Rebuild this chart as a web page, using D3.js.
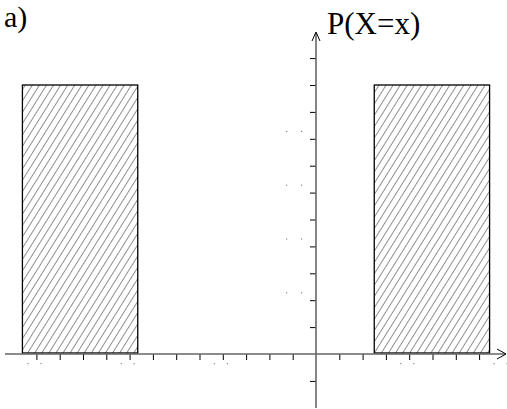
<!DOCTYPE html>
<html>
<head>
<meta charset="utf-8">
<script src="https://cdn.jsdelivr.net/npm/d3@7"></script>
<style>
  body { margin: 0; background: #fff; }
  svg { display: block; }
  .lbl { font-family: "Liberation Serif", "DejaVu Serif", serif; }
</style>
</head>
<body>
<div id="chart"></div>
<script>
// bars: uniform distribution pieces [x0, x1] with height
var barStart = [-12.6, 2.5];
var barEnd = [-7.65, 7.45];
var barHeight = [10, 10];

// axis tick values
var xTicks = [-12, -11, -10, -9, -8, -7, -6, -5, -4, -3, -2, -1, 1, 2, 3, 4, 5, 6, 7];
var yTicks = [-1, 1, 2, 3, 4, 5, 6, 7, 8, 9, 10, 11];

// faint shrunken tick labels (show as little dots)
var xLabelVals = [-12, -8, -4, 4, 8];
var yLabelVals = [2, 4, 6, 8];

var width = 507, height = 409;

var svg = d3.select("#chart").append("svg")
    .attr("width", width)
    .attr("height", height);

// scales: origin at (316, 354)
var x = d3.scaleLinear().domain([0, 1]).range([316, 339.3]);
var y = d3.scaleLinear().domain([0, 1]).range([354, 327.1]);

// hatch pattern
var defs = svg.append("defs");
var pat = defs.append("pattern")
    .attr("id", "hatch")
    .attr("patternUnits", "userSpaceOnUse")
    .attr("width", 6)
    .attr("height", 6)
    .attr("patternTransform", "rotate(32)");
pat.append("line")
    .attr("x1", 0).attr("y1", 0)
    .attr("x2", 0).attr("y2", 6)
    .attr("stroke", "#333")
    .attr("stroke-width", 1.1);

// bars
var bars = barStart.map(function(d, i) { return { x0: d, x1: barEnd[i], h: barHeight[i] }; });

svg.selectAll(".bar")
    .data(bars)
    .enter().append("rect")
    .attr("class", "bar")
    .attr("x", function(d) { return x(d.x0); })
    .attr("y", function(d) { return y(d.h); })
    .attr("width", function(d) { return x(d.x1) - x(d.x0); })
    .attr("height", function(d) { return y(0) - y(d.h) - 1; })
    .attr("fill", "url(#hatch)")
    .attr("stroke", "#000")
    .attr("stroke-width", 1.3);

// x axis
var xAxis = d3.axisBottom(x)
    .tickValues(xTicks)
    .tickSize(6)
    .tickFormat("");
var gx = svg.append("g")
    .attr("transform", "translate(0," + y(0) + ")")
    .call(xAxis);
gx.select(".domain").remove();
gx.selectAll(".tick line").attr("stroke", "#000");
svg.append("line")
    .attr("x1", 5).attr("x2", 505)
    .attr("y1", y(0)).attr("y2", y(0))
    .attr("stroke", "#666").attr("stroke-width", 1.6);
svg.append("path")
    .attr("d", "M497,349 L506,354 L497,359")
    .attr("fill", "none").attr("stroke", "#000").attr("stroke-width", 1);

// y axis
var yAxis = d3.axisLeft(y)
    .tickValues(yTicks)
    .tickSize(6)
    .tickFormat("");
var gy = svg.append("g")
    .attr("transform", "translate(" + x(0) + ",0)")
    .call(yAxis);
gy.select(".domain").remove();
gy.selectAll(".tick line").attr("stroke", "#000");
svg.append("line")
    .attr("x1", x(0)).attr("x2", x(0))
    .attr("y1", 33).attr("y2", 408)
    .attr("stroke", "#666").attr("stroke-width", 1.6);
svg.append("path")
    .attr("d", "M312,41 L316,32 L320,41")
    .attr("fill", "none").attr("stroke", "#000").attr("stroke-width", 1);

// faint label dots
xLabelVals.forEach(function(v) {
    [-9, 4].forEach(function(off) {
        svg.append("rect")
            .attr("x", x(v) + off).attr("y", 363)
            .attr("width", 1.2).attr("height", 1.2)
            .attr("fill", "#888");
    });
});
yLabelVals.forEach(function(v) {
    [286, 301].forEach(function(px) {
        svg.append("rect")
            .attr("x", px).attr("y", y(v) - 8)
            .attr("width", 1.2).attr("height", 1.2)
            .attr("fill", "#888");
    });
});

// labels
svg.append("text")
    .attr("class", "lbl")
    .attr("x", 4).attr("y", 27)
    .attr("font-size", 30)
    .attr("fill", "#000")
    .text("a)");
svg.append("text")
    .attr("class", "lbl")
    .attr("x", 327).attr("y", 34)
    .attr("font-size", 31)
    .attr("fill", "#000")
    .text("P(X=x)");
</script>
</body>
</html>
